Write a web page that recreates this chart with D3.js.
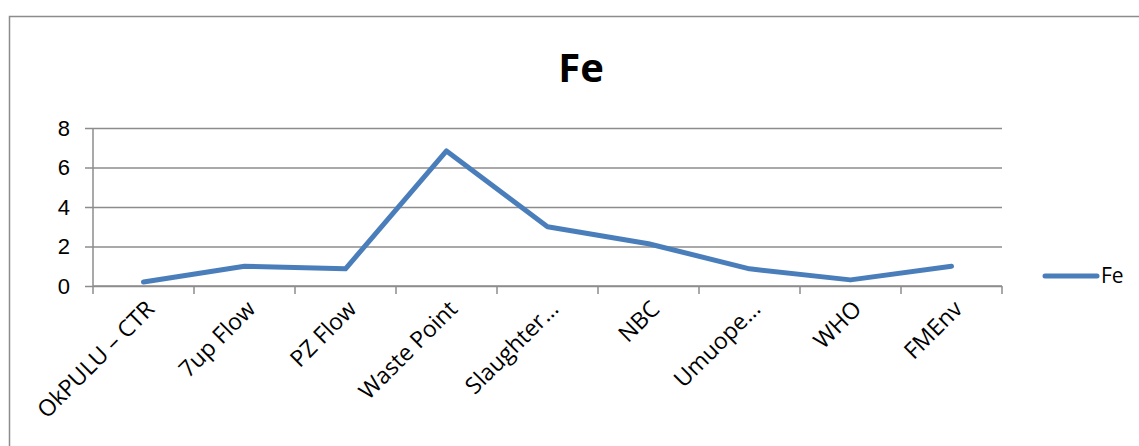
<!DOCTYPE html>
<html>
<head>
<meta charset="utf-8">
<script src="https://cdn.jsdelivr.net/npm/d3@7"></script>
<style>
  html, body { margin: 0; padding: 0; background: #fff; }
  svg { display: block; font-family: "Open Sans", "Liberation Sans", sans-serif; }
</style>
</head>
<body>
<svg id="chart" width="1139" height="446"></svg>
<script>
// Sampling sites and their Fe concentrations
const categories = ["OkPULU – CTR", "7up Flow", "PZ Flow", "Waste Point", "Slaughter…", "NBC", "Umuope…", "WHO", "FMEnv"];
const feValues = [0.2, 1.0, 0.87, 6.84, 3.0, 2.14, 0.87, 0.31, 1.0];
const yTicks = [0, 2, 4, 6, 8];
const seriesName = "Fe";
const chartTitle = "Fe";

const svg = d3.select("#chart");
const lineColor = "#4a7ebb";
const gridColor = "#8c8c8c";

// Outer chart frame
svg.append("rect")
  .attr("x", 9.5).attr("y", 16.5)
  .attr("width", 1160).attr("height", 460)
  .attr("fill", "none").attr("stroke", gridColor).attr("stroke-width", 1.5);

const plot = { left: 93, right: 1002, top: 128, bottom: 286 };

const x = d3.scaleBand().domain(categories).range([plot.left, plot.right]).padding(0);
const y = d3.scaleLinear().domain([0, 8]).range([plot.bottom, plot.top]);

// Horizontal gridlines with y tick labels
const yAxis = d3.axisLeft(y).tickValues(yTicks).tickSize(plot.right - plot.left + 8).tickPadding(15);
const gy = svg.append("g").attr("transform", `translate(${plot.right},0)`).call(yAxis);
gy.select(".domain").remove();
gy.selectAll(".tick line").attr("stroke", gridColor).attr("stroke-width", 1.5);
gy.selectAll(".tick text").attr("font-size", 22).attr("fill", "#000");

// Vertical axis line
svg.append("line")
  .attr("x1", plot.left).attr("x2", plot.left)
  .attr("y1", plot.top).attr("y2", plot.bottom)
  .attr("stroke", gridColor).attr("stroke-width", 1.5);

// Category axis: boundary tick marks
const bounds = categories.map(c => x(c)).concat([x(categories[categories.length - 1]) + x.bandwidth()]);
svg.append("g").selectAll("line").data(bounds).join("line")
  .attr("x1", d => d).attr("x2", d => d)
  .attr("y1", plot.bottom).attr("y2", plot.bottom + 8)
  .attr("stroke", gridColor).attr("stroke-width", 1.5);
svg.append("line")
  .attr("x1", plot.left).attr("x2", plot.right)
  .attr("y1", plot.bottom).attr("y2", plot.bottom)
  .attr("stroke", gridColor).attr("stroke-width", 1.5);

// Rotated category labels
svg.append("g").selectAll("text").data(categories).join("text")
  .attr("transform", d => `translate(${x(d) + x.bandwidth() / 2 + 1},${plot.bottom + 13}) rotate(-45)`)
  .attr("text-anchor", "end")
  .attr("dy", "0.7em")
  .attr("font-size", 23)
  .attr("fill", "#000")
  .text(d => d);

// Fe series line
const line = d3.line()
  .x((d, i) => x(categories[i]) + x.bandwidth() / 2)
  .y(d => y(d));
svg.append("path")
  .datum(feValues)
  .attr("d", line)
  .attr("fill", "none")
  .attr("stroke", lineColor)
  .attr("stroke-width", 5)
  .attr("stroke-linejoin", "round")
  .attr("stroke-linecap", "round");

// Title
svg.append("text")
  .attr("x", 581).attr("y", 82)
  .attr("text-anchor", "middle")
  .attr("font-size", 40)
  .attr("font-weight", "bold")
  .attr("fill", "#000")
  .text(chartTitle);

// Legend
const legY = 276;
svg.append("line")
  .attr("x1", 1045).attr("x2", 1097)
  .attr("y1", legY).attr("y2", legY)
  .attr("stroke", lineColor).attr("stroke-width", 5).attr("stroke-linecap", "round");
svg.append("text")
  .attr("x", 1101).attr("y", legY)
  .attr("dy", "0.35em")
  .attr("font-size", 21)
  .attr("fill", "#000")
  .text(seriesName);
</script>
</body>
</html>
